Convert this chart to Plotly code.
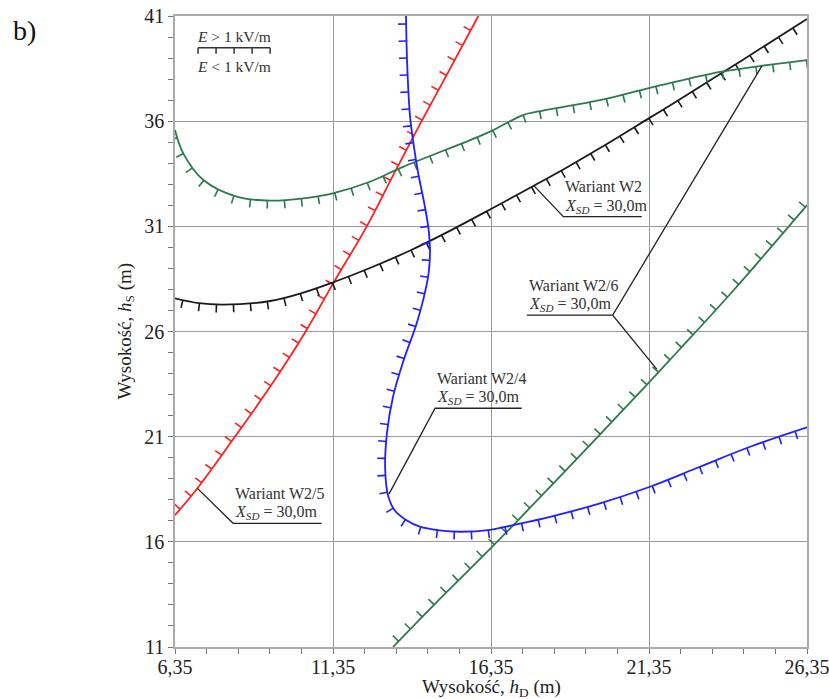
import numpy as np
import plotly.graph_objects as go

# ---------------- data ----------------
x_range = [6.35, 26.35]
y_range = [11, 41]
x_ticks = [6.35, 11.35, 16.35, 21.35, 26.35]
x_tick_labels = ["6,35", "11,35", "16,35", "21,35", "26,35"]
y_ticks = [11, 16, 21, 26, 31, 36, 41]
y_tick_labels = ["11", "16", "21", "26", "31", "36", "41"]

# Wariant W2 (black)
w2_x = [6.35, 7.10, 7.88, 9.36, 10.41, 11.34, 12.52, 13.79, 15.00, 16.32, 17.69, 18.75, 19.80, 21.33, 22.23, 24.30, 26.35]
w2_y = [27.58, 27.35, 27.28, 27.45, 27.85, 28.33, 29.02, 29.85, 30.75, 31.80, 32.92, 33.80, 34.72, 36.12, 36.95, 38.90, 40.86]

# Wariant W2/4 (blue)
w24_x = [13.66, 13.70, 13.79, 13.90, 14.05, 14.25, 14.38, 14.42, 14.37, 14.22, 13.98, 13.60, 13.25, 13.06, 13.00, 13.10, 13.30, 13.65, 14.10, 14.70, 15.40, 16.32, 17.06, 18.22, 19.80, 21.38, 22.96, 24.55, 26.35]
w24_y = [41.00, 38.60, 36.20, 34.90, 33.50, 32.00, 30.80, 29.80, 28.70, 27.60, 26.30, 24.70, 22.90, 21.20, 19.50, 18.15, 17.50, 17.05, 16.72, 16.55, 16.48, 16.57, 16.80, 17.19, 17.83, 18.62, 19.57, 20.52, 21.44]

# Wariant W2/5 (red)
w25_x = [6.35, 7.06, 8.28, 9.36, 10.48, 11.36, 12.42, 13.26, 14.10, 14.95, 15.95]
w25_y = [17.27, 18.55, 21.07, 23.37, 25.99, 28.30, 31.00, 33.45, 35.85, 38.20, 41.00]

# Wariant W2/6 (green) - upper branch
w26a_x = [6.35, 6.61, 7.25, 8.30, 9.36, 10.41, 11.34, 12.52, 13.57, 15.69, 16.32, 17.36, 17.80, 19.80, 21.38, 23.60, 24.86, 26.35]
w26a_y = [35.58, 34.47, 33.20, 32.41, 32.22, 32.33, 32.57, 33.12, 33.83, 35.10, 35.50, 36.29, 36.45, 37.00, 37.58, 38.34, 38.62, 38.90]

# Wariant W2/6 (green) - lower branch
w26b_x = [13.25, 14.74, 16.32, 17.06, 19.75, 21.33, 22.30, 24.02, 26.35]
w26b_y = [11.00, 13.30, 15.66, 16.80, 21.03, 23.55, 25.12, 27.95, 32.01]

# leader lines for labels (data coords)
lead_w2_x = [17.69, 18.64, 21.12]
lead_w2_y = [32.96, 31.46, 31.46]
lead_w24_x = [13.12, 14.58, 17.32]
lead_w24_y = [18.27, 22.35, 22.35]
lead_w25_x = [7.06, 8.19, 10.99]
lead_w25_y = [18.54, 16.88, 16.88]
lead_w26_x = [24.92, 20.20, 21.60, 20.20, 17.48]
lead_w26_y = [38.62, 26.78, 24.20, 26.78, 26.78]

label_names = ["Wariant W2", "Wariant W2/4", "Wariant W2/5", "Wariant W2/6"]
label_sub = "<i>X</i><sub><i>SD</i></sub> = 30,0m"

legend_line_x = [7.08, 9.36]
legend_line_y = 39.49

# ---------------- geometry ----------------
W, H = 829, 699
ML, MR, MT, MB = 175, 22, 16, 52
PW, PH = W - ML - MR, H - MT - MB
x0, y0 = x_range[0], y_range[0]
sx = PW / (x_range[1] - x_range[0])
sy = PH / (y_range[1] - y_range[0])

FONT = "Liberation Serif, Palatino Linotype, serif"
RED, BLUE, GREEN, BLACK = "#ff1f1f", "#1f1fff", "#2a7a4c", "#1a1a1a"


def spline_px(P):
    """Reproduce plotly's spline path (smoothing=1) in pixel space."""
    n = len(P)
    t = np.linspace(0, 1, 41)[:, None]
    if n < 3:
        return np.vstack([P[0] + t * (P[1] - P[0])])
    tang = []
    for i in range(1, n - 1):
        d1 = P[i - 1] - P[i]
        d2 = P[i + 1] - P[i]
        d1a = (d1 @ d1) ** 0.25
        d2a = (d2 @ d2) ** 0.25
        num = d2a ** 2 * d1 - d1a ** 2 * d2
        den1 = 3 * d2a * (d1a + d2a)
        den2 = 3 * d1a * (d1a + d2a)
        tang.append((P[i] + num / den1, P[i] - num / den2))

    def quad(a, c, b):
        return (1 - t) ** 2 * a + 2 * (1 - t) * t * c + t ** 2 * b

    def cubic(a, c1, c2, b):
        return (1 - t) ** 3 * a + 3 * (1 - t) ** 2 * t * c1 + 3 * (1 - t) * t ** 2 * c2 + t ** 3 * b

    segs = [quad(P[0], tang[0][0], P[1])]
    for i in range(2, n - 1):
        segs.append(cubic(P[i - 1], tang[i - 2][1], tang[i - 1][0], P[i]))
    segs.append(quad(P[n - 2], tang[n - 3][1], P[n - 1]))
    out = [segs[0]] + [s[1:] for s in segs[1:]]
    return np.vstack(out)


def hatch(xs, ys, side, spacing=17.0, length=8.0, start=8.0):
    P = np.column_stack([(np.array(xs) - x0) * sx, (np.array(ys) - y0) * sy])
    C = spline_px(P)
    d = np.hypot(*np.diff(C, axis=0).T)
    keep = np.concatenate([[True], d > 1e-9])
    C = C[keep]
    s = np.concatenate([[0], np.cumsum(np.hypot(*np.diff(C, axis=0).T))])
    total = s[-1]
    hx, hy = [], []
    for p in np.arange(start, total, spacing):
        px = np.interp(p, s, C[:, 0])
        py = np.interp(p, s, C[:, 1])
        a, b = max(p - 2, 0), min(p + 2, total)
        tx = np.interp(b, s, C[:, 0]) - np.interp(a, s, C[:, 0])
        ty = np.interp(b, s, C[:, 1]) - np.interp(a, s, C[:, 1])
        nn = np.hypot(tx, ty)
        tx, ty = tx / nn, ty / nn
        nx, ny = -ty * side, tx * side
        hx += [px / sx + x0, (px + nx * length) / sx + x0, None]
        hy += [py / sy + y0, (py + ny * length) / sy + y0, None]
    return hx, hy


fig = go.Figure()

curves = [
    (w25_x, w25_y, RED, +1),
    (w2_x, w2_y, BLACK, -1),
    (w26a_x, w26a_y, GREEN, -1),
    (w26b_x, w26b_y, GREEN, +1),
    (w24_x, w24_y, BLUE, -1),
]
for xs, ys, col, side in curves:
    hx, hy = hatch(xs, ys, side)
    fig.add_trace(go.Scatter(x=hx, y=hy, mode="lines", line=dict(color=col, width=1.6),
                             hoverinfo="skip", showlegend=False))
    fig.add_trace(go.Scatter(x=xs, y=ys, mode="lines",
                             line=dict(color=col, width=1.8, shape="spline", simplify=False),
                             showlegend=False))

# leader lines
for lx, ly in [(lead_w2_x, lead_w2_y), (lead_w24_x, lead_w24_y), (lead_w25_x, lead_w25_y), (lead_w26_x, lead_w26_y)]:
    fig.add_trace(go.Scatter(x=lx, y=ly, mode="lines", line=dict(color="#222222", width=1.3),
                             hoverinfo="skip", showlegend=False))

# legend symbol (line with downward ticks)
lgx, lgy = [legend_line_x[0], legend_line_x[1], None], [legend_line_y, legend_line_y, None]
for xv in np.linspace(legend_line_x[0], legend_line_x[1], 5):
    lgx += [xv, xv, None]
    lgy += [legend_line_y, legend_line_y - 6 / sy, None]
fig.add_trace(go.Scatter(x=lgx, y=lgy, mode="lines", line=dict(color="#333333", width=1.5),
                         hoverinfo="skip", showlegend=False))

ann = []
txtfont = dict(family=FONT, size=16, color="#333333")
legfont = dict(family=FONT, size=15.5, color="#333333")
# label texts: (name, underline-left x, underline y)
for name, lx, ly in [(label_names[0], lead_w2_x[1], lead_w2_y[1]),
                     (label_names[1], lead_w24_x[1], lead_w24_y[1]),
                     (label_names[2], lead_w25_x[1], lead_w25_y[1]),
                     (label_names[3], lead_w26_x[4], lead_w26_y[4])]:
    ann.append(dict(x=lx, y=ly, xref="x", yref="y", text=name, showarrow=False, xanchor="left",
                    yanchor="middle", yshift=30, font=txtfont))
    ann.append(dict(x=lx, y=ly, xref="x", yref="y", text=label_sub, showarrow=False, xanchor="left",
                    yanchor="bottom", yshift=-1, font=txtfont))

mid_leg = (legend_line_x[0] + legend_line_x[1]) / 2
ann.append(dict(x=mid_leg, y=legend_line_y, xref="x", yref="y", text="<i>E</i> > 1 kV/m",
                showarrow=False, yanchor="middle", yshift=11, font=legfont))
ann.append(dict(x=mid_leg, y=legend_line_y, xref="x", yref="y", text="<i>E</i> < 1 kV/m",
                showarrow=False, yanchor="middle", yshift=-19, font=legfont))

# axis titles and panel label
ann.append(dict(x=0.5, y=0, xref="paper", yref="paper", text="Wysokość, <i>h</i><sub>D</sub> (m)",
                showarrow=False, yanchor="middle", yshift=-41, font=dict(family=FONT, size=19, color="#222")))
ann.append(dict(x=0, y=0.5, xref="paper", yref="paper", text="Wysokość, <i>h</i><sub>S</sub> (m)",
                showarrow=False, xanchor="center", xshift=-50, textangle=-90,
                font=dict(family=FONT, size=19, color="#222")))
ann.append(dict(x=0, y=1, xref="paper", yref="paper", text="b)", showarrow=False,
                xanchor="center", yanchor="middle", xshift=-151, yshift=-14,
                font=dict(family=FONT, size=28, color="#111")))

axis_common = dict(showgrid=True, gridcolor="#9a9a9a", gridwidth=1.1, showline=True, mirror=True,
                   linecolor="#ababab", linewidth=1.6, ticks="outside", ticklen=5, tickcolor="#777",
                   tickfont=dict(family=FONT, size=20, color="#222"), zeroline=False, automargin=False,
                   ticklabeloverflow="allow")

fig.update_layout(
    width=W, height=H, margin=dict(l=ML, r=MR, t=MT, b=MB, autoexpand=False),
    paper_bgcolor="white", plot_bgcolor="white",
    annotations=ann,
    xaxis=dict(range=x_range, tickvals=x_ticks, ticktext=x_tick_labels, ticklabelstandoff=-4,
               minor=dict(tick0=6.35, dtick=1, ticks="outside", ticklen=5, tickcolor="#777", showgrid=False),
               **axis_common),
    yaxis=dict(range=y_range, tickvals=y_ticks, ticktext=y_tick_labels,
               minor=dict(tick0=11, dtick=1, ticks="outside", ticklen=5, tickcolor="#777", showgrid=False),
               **axis_common),
)

fig.write_html("out.html", config={"displayModeBar": False},
               post_script="document.body.style.margin='0px';document.body.style.overflow='hidden';")
